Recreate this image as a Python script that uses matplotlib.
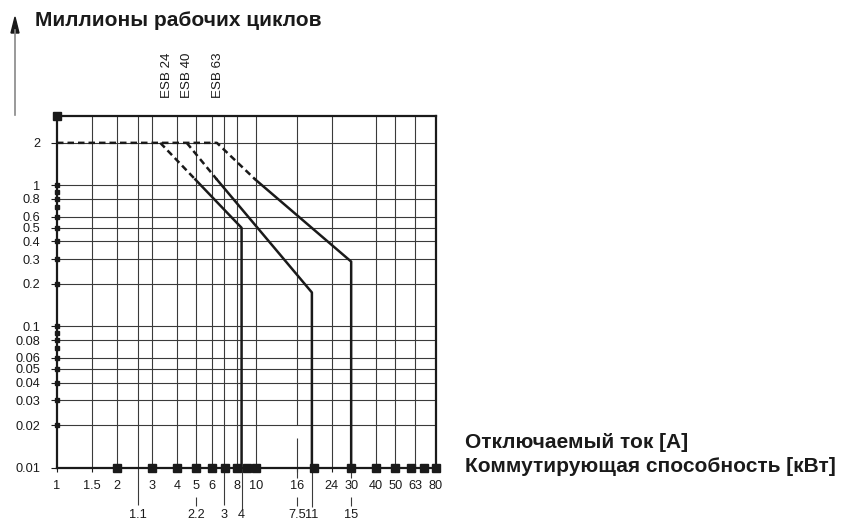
import matplotlib.pyplot as plt

plt.rcParams['font.family'] = ['Liberation Sans', 'DejaVu Sans']

# grid positions (A scale)
vgrid = [1.5, 2, 2.55, 3, 4, 5, 6, 6.9, 8, 10, 24, 40, 50, 63]
hgrid = [0.02, 0.03, 0.04, 0.05, 0.06, 0.08, 0.1, 0.2, 0.3, 0.4, 0.5, 0.6, 0.8, 1, 2]

# x tick labels (A)
xticks = [1, 1.5, 2, 3, 4, 5, 6, 8, 10, 16, 24, 30, 40, 50, 63, 80]
xlabels = ['1', '1.5', '2', '3', '4', '5', '6', '8', '10', '16', '24', '30', '40', '50', '63', '80']
# second scale (kW) and where they sit on the A scale
kw_pos = [2.55, 5, 6.9, 8.45, 16, 19.05, 30]
kw_labels = ['1.1', '2.2', '3', '4', '7.5', '11', '15']

yticks = [0.01, 0.02, 0.03, 0.04, 0.05, 0.06, 0.08, 0.1, 0.2, 0.3, 0.4, 0.5, 0.6, 0.8, 1, 2]
ylabels = ['0.01', '0.02', '0.03', '0.04', '0.05', '0.06', '0.08', '0.1', '0.2', '0.3', '0.4', '0.5', '0.6', '0.8', '1', '2']
ydots = [0.02, 0.03, 0.04, 0.05, 0.06, 0.07, 0.08, 0.09, 0.1, 0.2, 0.3, 0.4, 0.5, 0.6, 0.7, 0.8, 0.9, 1]
xsquares = [2, 3, 4, 5, 6, 7, 8, 9, 10, 19.5, 30, 40, 50, 60, 70, 80]

# curves
esb24_dash_x = [3.3, 4.95]
esb24_dash_y = [2, 1.1]
esb24_x = [4.95, 8.45, 8.45]
esb24_y = [1.1, 0.5, 0.01]

esb40_dash_x = [4.48, 6.35]
esb40_dash_y = [2, 1.1]
esb40_x = [6.35, 19.05, 19.05]
esb40_y = [1.1, 0.174, 0.01]

esb63_dash_x = [1, 6.35, 9.9]
esb63_dash_y = [2, 2, 1.1]
esb63_x = [9.9, 30, 30]
esb63_y = [1.1, 0.288, 0.01]

names = ['ESB 24', 'ESB 40', 'ESB 63']
name_x = [3.57, 4.5, 6.43]

fig = plt.figure(figsize=(8.57, 5.24), dpi=100)
ax = fig.add_axes([57 / 857, (524 - 467.5) / 524, 379 / 857, 351.5 / 524])
ax.set_xscale('log')
ax.set_yscale('log')
ax.set_xlim(1, 80)
ax.set_ylim(0.01, 3.1)

gc = '#3a3a3a'
ax.vlines(vgrid, 0.01, 3.1, color=gc, lw=0.8, zorder=1)
ax.vlines([16], 0.02, 3.1, color=gc, lw=0.8, zorder=1)
ax.vlines([16], 0.01, 0.0163, color=gc, lw=0.8, zorder=1)
ax.hlines(hgrid, 1, 80, color=gc, lw=0.8, zorder=1)

lw = 1.8
ls = (0, (2.6, 1.6))
k = '#1a1a1a'
ax.plot(esb63_dash_x, esb63_dash_y, color=k, lw=lw, ls=ls, zorder=3)
ax.plot(esb24_dash_x, esb24_dash_y, color=k, lw=lw, ls=ls, zorder=3)
ax.plot(esb40_dash_x, esb40_dash_y, color=k, lw=lw, ls=ls, zorder=3)
ax.plot(esb24_x, esb24_y, color=k, lw=lw, zorder=3)
ax.plot(esb40_x, esb40_y, color=k, lw=lw, zorder=3)
ax.plot(esb63_x, esb63_y, color=k, lw=lw, zorder=3)

# markers on axes
ax.plot([1] * len(ydots), ydots, 's', color=k, ms=2.5, clip_on=False, zorder=4)
ax.plot(xsquares, [0.01] * len(xsquares), 's', color=k, ms=5.5, clip_on=False, zorder=4)
ax.plot([1], [3.1], 's', color=k, ms=6, clip_on=False, zorder=4)

for s in ax.spines.values():
    s.set_linewidth(1.6)
    s.set_color(k)

fs = 9.2
ax.set_xticks(xticks)
ax.set_xticklabels(xlabels)
ax.set_xticks([], minor=True)
ax.set_yticks(yticks)
ax.set_yticklabels(ylabels)
ax.set_yticks([], minor=True)
ax.tick_params(axis='x', length=3, width=0.8, pad=6, labelsize=fs, colors=k)
ax.tick_params(axis='y', length=4, width=0.8, pad=8, labelsize=fs, colors=k)

# kW scale below axis
tr = ax.get_xaxis_transform()
ax.vlines([2.55, 6.9], 0, -0.107, color=gc, lw=0.8, transform=tr, clip_on=False)
ax.vlines([8.45], 0, -0.118, color=gc, lw=0.8, transform=tr, clip_on=False)
ax.vlines([19.05], 0, -0.112, color=gc, lw=0.8, transform=tr, clip_on=False)
ax.vlines([16, 30], 0, -0.03, color=gc, lw=0.8, transform=tr, clip_on=False)
ax.vlines([5, 16, 30], -0.085, -0.11, color=gc, lw=0.8, transform=tr, clip_on=False)
for xp, lab in zip(kw_pos, kw_labels):
    ax.text(xp, -0.118, lab, transform=tr, ha='center', va='top', fontsize=fs, color=k, clip_on=False)

for xp, lab in zip(name_x, names):
    ax.text(xp, 1.051, lab, transform=tr, rotation=90, ha='center', va='bottom', fontsize=9.6, color=k)

# titles
fig.text(35 / 857, 1 - 20 / 524, 'Миллионы рабочих циклов', fontsize=15, fontweight='bold',
         ha='left', va='center', color=k)
fig.text(465 / 857, 1 - 443 / 524, 'Отключаемый ток [A]', fontsize=15, fontweight='bold',
         ha='left', va='center', color=k)
fig.text(465 / 857, 1 - 466 / 524, 'Коммутирующая способность [кВт]', fontsize=15, fontweight='bold',
         ha='left', va='center', color=k)

# y arrow
fig.add_artist(plt.Line2D([15 / 857, 15 / 857], [1 - 115 / 524, 1 - 30 / 524],
                          transform=fig.transFigure, color='#888888', lw=1.2))
fig.add_artist(plt.Polygon([[11 / 857, 1 - 33 / 524], [19 / 857, 1 - 33 / 524], [15 / 857, 1 - 17 / 524]],
                           closed=True, transform=fig.transFigure, color=k))

fig.savefig('out.png', dpi=100)
